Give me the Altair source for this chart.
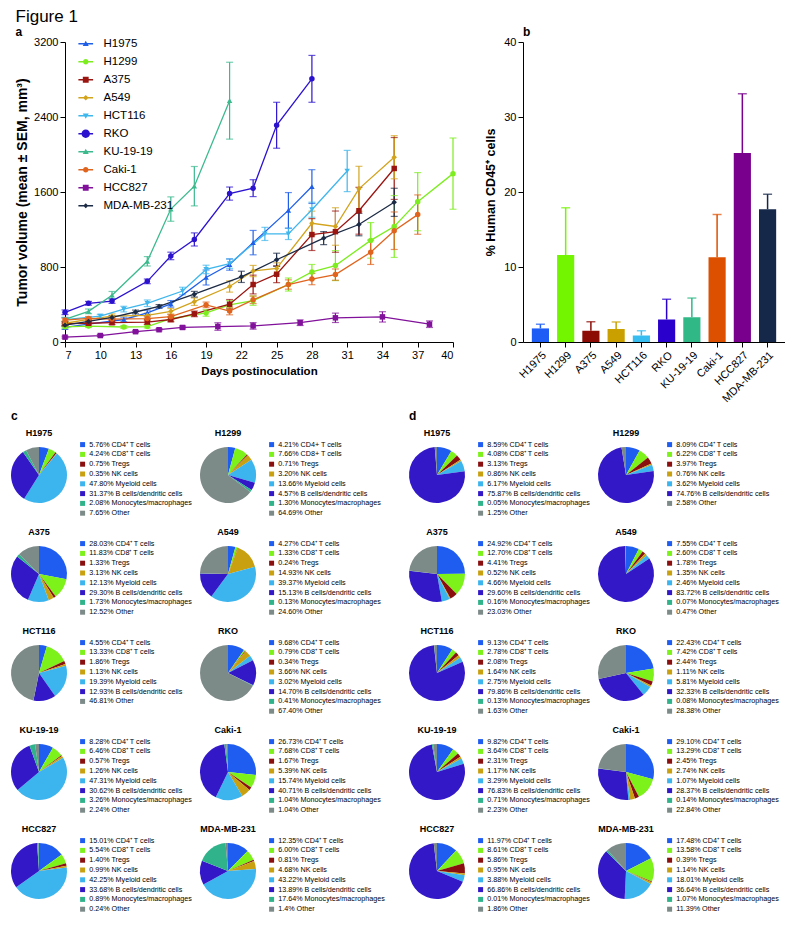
import altair as alt
import pandas as pd

FONT = "Liberation Sans"

# ---------------- panel a : tumour growth ----------------
SERIES = ["H1975", "H1299", "A375", "A549", "HCT116", "RKO", "KU-19-19", "Caki-1", "HCC827", "MDA-MB-231"]
LINE_COLORS = ["#1f5fe8", "#7ded1f", "#9a1410", "#d2a31c", "#3fb6ec", "#2b12cf", "#3cba8e", "#e0641e", "#81109a", "#1b2a45"]
MARKERS = ["triangle-up", "circle", "square", "diamond", "triangle-down", "circle", "triangle-up", "circle", "square", "diamond"]
MARKER_SIZES = [30, 30, 34, 22, 30, 70, 30, 30, 34, 18]
DAY_TICKS = [7, 10, 13, 16, 19, 22, 25, 28, 31, 34, 37, 40]
VOL_TICKS = [0, 800, 1600, 2400, 3200]

H1975_DAYS = [7, 9, 12, 14, 16, 19, 21, 23, 26, 28]
H1975_MEAN = [155, 190, 240, 310, 407, 688, 826, 1060, 1404, 1658]
H1975_SEM = [20, 20, 25, 30, 35, 80, 60, 130, 190, 180]

H1299_DAYS = [7, 9, 12, 14, 16, 19, 21, 23, 26, 28, 30, 33, 35, 37, 40]
H1299_MEAN = [162, 170, 160, 165, 248, 310, 396, 441, 613, 747, 815, 1084, 1232, 1497, 1796]
H1299_SEM = [15, 15, 15, 15, 25, 35, 45, 50, 70, 80, 160, 190, 330, 310, 380]

A375_DAYS = [7, 9, 11, 14, 16, 18, 21, 23, 25, 28, 30, 32, 35]
A375_MEAN = [195, 200, 206, 213, 240, 300, 403, 613, 723, 1146, 1177, 1400, 1851]
A375_SEM = [20, 20, 20, 25, 25, 30, 50, 100, 90, 170, 220, 250, 330]

A549_DAYS = [7, 9, 11, 14, 16, 18, 21, 23, 25, 28, 30, 32, 35]
A549_MEAN = [200, 241, 275, 283, 327, 430, 592, 757, 785, 1266, 1232, 1634, 1971]
A549_SEM = [20, 20, 25, 25, 30, 40, 60, 60, 60, 130, 200, 240, 230]

HCT116_DAYS = [7, 10, 12, 14, 17, 19, 21, 24, 26, 28, 31]
HCT116_MEAN = [238, 275, 351, 413, 544, 774, 836, 1153, 1153, 1411, 1824]
HCT116_SEM = [25, 20, 30, 35, 40, 45, 50, 70, 60, 80, 220]

RKO_DAYS = [7, 9, 11, 14, 16, 18, 21, 23, 25, 28]
RKO_MEAN = [317, 413, 437, 647, 918, 1094, 1583, 1641, 2312, 2807]
RKO_SEM = [25, 20, 25, 25, 40, 70, 70, 90, 245, 250]

KU1919_DAYS = [7, 9, 11, 14, 16, 18, 21]
KU1919_MEAN = [241, 327, 499, 861, 1418, 1662, 2574]
KU1919_SEM = [20, 25, 40, 50, 130, 210, 410]

CAKI1_DAYS = [7, 9, 11, 14, 16, 19, 21, 23, 26, 28, 30, 33, 35, 37]
CAKI1_MEAN = [234, 252, 245, 250, 270, 396, 330, 450, 613, 671, 719, 957, 1187, 1359]
CAKI1_SEM = [20, 20, 20, 25, 25, 30, 40, 40, 50, 60, 60, 130, 200, 210]

HCC827_DAYS = [7, 10, 13, 15, 17, 20, 23, 27, 30, 34, 38]
HCC827_MEAN = [52, 69, 110, 131, 155, 165, 172, 206, 258, 268, 190]
HCC827_SEM = [10, 10, 10, 12, 15, 40, 35, 30, 50, 55, 35]

MDA_DAYS = [7, 9, 11, 13, 15, 18, 22, 25, 29, 32, 35]
MDA_MEAN = [180, 220, 262, 320, 379, 510, 695, 877, 1108, 1253, 1490]
MDA_SEM = [15, 20, 20, 20, 20, 30, 60, 70, 70, 120, 150]

GROWTH = [
    (H1975_DAYS, H1975_MEAN, H1975_SEM),
    (H1299_DAYS, H1299_MEAN, H1299_SEM),
    (A375_DAYS, A375_MEAN, A375_SEM),
    (A549_DAYS, A549_MEAN, A549_SEM),
    (HCT116_DAYS, HCT116_MEAN, HCT116_SEM),
    (RKO_DAYS, RKO_MEAN, RKO_SEM),
    (KU1919_DAYS, KU1919_MEAN, KU1919_SEM),
    (CAKI1_DAYS, CAKI1_MEAN, CAKI1_SEM),
    (HCC827_DAYS, HCC827_MEAN, HCC827_SEM),
    (MDA_DAYS, MDA_MEAN, MDA_SEM),
]

# ---------------- panel b : CD45+ ----------------
CD45_MEAN = [1.81, 11.6, 1.5, 1.73, 0.86, 3.0, 3.3, 11.3, 25.2, 17.7]
CD45_SEM = [0.56, 6.3, 1.2, 0.94, 0.64, 2.7, 2.56, 5.7, 7.9, 2.0]
BAR_COLORS = ["#1d5cf5", "#74f500", "#8c0c05", "#c9a000", "#38bdf0", "#2a00cc", "#30b887", "#dc5000", "#78008c", "#16284a"]
PCT_TICKS = [0, 10, 20, 30, 40]

# ---------------- panels c / d : immune composition ----------------
PIE_CATS = ["CD4\u207a T cells", "CD8\u207a T cells", "Tregs", "NK cells", "Myeloid cells",
            "B cells/dendritic cells", "Monocytes/macrophages", "Other"]
PIE_COLORS = ["#1f5cf0", "#7cf21a", "#8a1010", "#c9a010", "#3cb4ee", "#3318c8", "#30b38a", "#7c8a88"]

C_H1975 = ["5.76", "4.24", "0.75", "0.35", "47.80", "31.37", "2.08", "7.65"]
C_H1299 = ["4.21", "7.66", "0.71", "3.20", "13.66", "4.57", "1.30", "64.69"]
C_A375 = ["28.03", "11.83", "1.33", "3.13", "12.13", "29.30", "1.73", "12.52"]
C_A549 = ["4.27", "1.33", "0.24", "14.93", "39.37", "15.13", "0.13", "24.60"]
C_HCT116 = ["4.55", "13.33", "1.86", "1.13", "19.39", "12.93", None, "46.81"]
C_RKO = ["9.68", "0.79", "0.34", "3.66", "3.02", "14.70", "0.41", "67.40"]
C_KU1919 = ["8.28", "6.46", "0.57", "1.26", "47.31", "30.62", "3.26", "2.24"]
C_CAKI1 = ["26.73", "7.68", "1.67", "5.39", "15.74", "40.71", "1.04", "1.04"]
C_HCC827 = ["15.01", "5.54", "1.40", "0.99", "42.25", "33.68", "0.89", "0.24"]
C_MDA = ["12.35", "6.00", "0.81", "4.68", "43.22", "13.89", "17.64", "1.4"]

D_H1975 = ["8.59", "4.08", "3.13", "0.86", "6.17", "75.87", "0.05", "1.25"]
D_H1299 = ["8.09", "6.22", "3.97", "0.76", "3.62", "74.76", None, "2.58"]
D_A375 = ["24.92", "12.70", "4.41", "0.52", "4.66", "29.60", "0.16", "23.03"]
D_A549 = ["7.55", "2.60", "1.78", "1.35", "2.46", "83.72", "0.07", "0.47"]
D_HCT116 = ["9.13", "2.78", "2.08", "1.64", "2.75", "79.86", "0.13", "1.63"]
D_RKO = ["22.43", "7.42", "2.44", "1.11", "5.81", "32.33", "0.08", "28.38"]
D_KU1919 = ["9.82", "3.64", "2.31", "1.17", "3.29", "76.83", "0.71", "2.23"]
D_CAKI1 = ["29.10", "13.29", "2.45", "2.74", "1.07", "28.37", "0.14", "22.84"]
D_HCC827 = ["11.97", "8.61", "5.86", "0.95", "3.88", "66.86", "0.01", "1.86"]
D_MDA = ["17.48", "13.58", "0.39", "1.14", "18.01", "36.64", "1.07", "11.39"]

C_SETS = [C_H1975, C_H1299, C_A375, C_A549, C_HCT116, C_RKO, C_KU1919, C_CAKI1, C_HCC827, C_MDA]
D_SETS = [D_H1975, D_H1299, D_A375, D_A549, D_HCT116, D_RKO, D_KU1919, D_CAKI1, D_HCC827, D_MDA]
PLAIN_PLUS = {("c", "H1299")}

AX = dict(domainColor="black", tickColor="black", labelColor="black", titleColor="black",
          grid=False, tickSize=5, domainWidth=1, tickWidth=1, labelFont=FONT, titleFont=FONT)

# ---------- build panel a ----------
rows = []
for s, (days, means, sems) in zip(SERIES, GROWTH):
    for d, m, e in zip(days, means, sems):
        rows.append({"series": s, "day": d, "mean": m, "lo": m - e, "hi": m + e})
df_a = pd.DataFrame(rows)


def legend_path(kind, size):
    k = (size ** 0.5) / 2 / 3.0
    line = "M-2.45,-0.22H2.45V0.22H-2.45Z"
    if kind == "triangle-up":
        m = f"M0,{-1.1*k:.3f}L{1.1*k:.3f},{0.85*k:.3f}H{-1.1*k:.3f}Z"
    elif kind == "triangle-down":
        m = f"M0,{1.1*k:.3f}L{-1.1*k:.3f},{-0.85*k:.3f}H{1.1*k:.3f}Z"
    elif kind == "square":
        m = f"M{-k:.3f},{-k:.3f}H{k:.3f}V{k:.3f}H{-k:.3f}Z"
    elif kind == "diamond":
        m = f"M0,{-1.2*k:.3f}L{1.2*k:.3f},0L0,{1.2*k:.3f}L{-1.2*k:.3f},0Z"
    else:
        m = f"M{k:.3f},0A{k:.3f},{k:.3f},0,1,1,{-k:.3f},0A{k:.3f},{k:.3f},0,1,1,{k:.3f},0Z"
    return line + m


LEGEND_PATHS = [legend_path(k, s) for k, s in zip(MARKERS, MARKER_SIZES)]

XSC = alt.Scale(domain=[7, 40], nice=False, zero=False)
YSC = alt.Scale(domain=[0, 3200], nice=False)
X_AXIS = alt.Axis(values=DAY_TICKS, title="Days postinoculation", titleFontSize=11.5, titleFontWeight="bold",
                  labelFontSize=11, titlePadding=5, format="d", **AX)
Y_AXIS = alt.Axis(values=VOL_TICKS, title="Tumor volume (mean \u00b1 SEM, mm\u00b3)", titleFontSize=14,
                  titleFontWeight="bold", labelFontSize=11, titlePadding=4, format="d", **AX)
COL = alt.Scale(domain=SERIES, range=LINE_COLORS)

base = alt.Chart(df_a)
xa = alt.X("day:Q", scale=XSC, axis=X_AXIS)

err_a = base.mark_rule(strokeWidth=1.2).encode(
    x=xa, y=alt.Y("lo:Q", scale=YSC, axis=Y_AXIS), y2=alt.Y2("hi:Q"),
    color=alt.Color("series:N", scale=COL, legend=None))
caps_a = base.transform_fold(["lo", "hi"], as_=["which", "val"]).mark_tick(
    orient="horizontal", size=7, thickness=1.2).encode(
    x=xa, y=alt.Y("val:Q", scale=YSC, axis=Y_AXIS),
    color=alt.Color("series:N", scale=COL, legend=None))
lines_a = base.mark_line(strokeWidth=1.3).encode(
    x=xa, y=alt.Y("mean:Q", scale=YSC, axis=Y_AXIS),
    color=alt.Color("series:N", scale=COL, legend=None), order="day:Q")
pts_a = base.mark_point(filled=True, opacity=1).encode(
    x=xa, y=alt.Y("mean:Q", scale=YSC, axis=Y_AXIS),
    color=alt.Color("series:N", scale=COL, legend=None),
    shape=alt.Shape("series:N", scale=alt.Scale(domain=SERIES, range=MARKERS), legend=None),
    size=alt.Size("series:N", scale=alt.Scale(domain=SERIES, range=MARKER_SIZES), legend=None))

LEG_A = alt.Legend(orient="none", legendX=15, legendY=-4, title=None, symbolSize=36, symbolOpacity=1,
                   symbolStrokeWidth=0, labelFontSize=11.5, labelOffset=12, rowPadding=5, padding=0,
                   labelFont=FONT, labelColor="black")
leg_a = base.mark_point(filled=True, opacity=0).encode(
    x=xa, y=alt.Y("mean:Q", scale=YSC, axis=Y_AXIS),
    color=alt.Color("series:N", scale=COL, legend=LEG_A),
    shape=alt.Shape("series:N", scale=alt.Scale(domain=SERIES, range=LEGEND_PATHS), legend=LEG_A))

panel_a = alt.layer(err_a, caps_a, lines_a, pts_a, leg_a).resolve_scale(
    color="independent", shape="independent", size="independent").properties(
    width=388, height=300,
    title=alt.TitleParams("Figure 1", subtitle="a", anchor="start", frame="bounds", fontSize=17,
                          fontWeight="normal", color="black", font=FONT, subtitleFont=FONT,
                          subtitleFontSize=12, subtitleFontWeight="bold", subtitleColor="black",
                          subtitlePadding=1, offset=2, dy=5))

# zero-size spacer so that panel a's axis extent sits inside the row
spacer = alt.Chart(pd.DataFrame({"v": [0]})).mark_point(opacity=0).encode(
    x=alt.X("v:Q", axis=None), y=alt.Y("v:Q", axis=None)).properties(width=1, height=1)

# ---------- build panel b ----------
df_b = pd.DataFrame({"line": SERIES, "pct": CD45_MEAN, "err": CD45_SEM})
df_b["hi"] = df_b["pct"] + df_b["err"]
XB = alt.X("line:N", sort=SERIES,
           scale=alt.Scale(domain=SERIES, paddingInner=0.32, paddingOuter=0.35),
           axis=alt.Axis(title=None, labelAngle=-45, labelFontSize=11, labelPadding=2, **AX))
YB_SC = alt.Scale(domain=[0, 40], nice=False)
YB_AX = alt.Axis(values=PCT_TICKS, title="% Human CD45\u207a cells", titleFontSize=12.5, titleFontWeight="bold",
                 labelFontSize=11, titlePadding=6, **AX)
COLB = alt.Scale(domain=SERIES, range=BAR_COLORS)
bb = alt.Chart(df_b)
bars = bb.mark_bar().encode(x=XB, y=alt.Y("pct:Q", scale=YB_SC, axis=YB_AX),
                            color=alt.Color("line:N", scale=COLB, legend=None))
err_b = bb.mark_rule(strokeWidth=1.5).encode(x=XB, y=alt.Y("pct:Q", scale=YB_SC, axis=YB_AX), y2="hi:Q",
                                             color=alt.Color("line:N", scale=COLB, legend=None))
cap_b = bb.mark_tick(orient="horizontal", size=9, thickness=1.5).encode(
    x=XB, y=alt.Y("hi:Q", scale=YB_SC, axis=YB_AX), color=alt.Color("line:N", scale=COLB, legend=None))
panel_b = alt.layer(bars, err_b, cap_b).properties(
    width=262, height=300,
    title=alt.TitleParams("b", anchor="start", fontSize=12, fontWeight="bold", offset=2, dy=5, frame="group"))


# ---------- pies ----------
def pie_cell(name, vals, plain):
    recs = []
    for i, (cat, v) in enumerate(zip(PIE_CATS, vals)):
        if v is None:
            continue
        nm = cat.replace("\u207a", "+") if plain else cat
        recs.append({"lab": f"{v}% {nm}", "v": float(v), "i": i, "col": PIE_COLORS[i]})
    df = pd.DataFrame(recs)
    leg = alt.Legend(orient="none", legendX=68, legendY=-6, title=None, symbolType="square", symbolSize=25,
                     symbolStrokeWidth=0, labelFontSize=7.2, labelOffset=3, rowPadding=1.8, padding=0,
                     labelLimit=220, labelFont=FONT, labelColor="black")
    return alt.Chart(df).mark_arc().encode(
        theta=alt.Theta("v:Q", stack=True),
        color=alt.Color("lab:N", scale=alt.Scale(domain=list(df["lab"]), range=list(df["col"])), legend=leg),
        order=alt.Order("i:Q"),
    ).properties(width=56, height=56,
                 title=alt.TitleParams(name, fontSize=9, fontWeight="bold", anchor="middle", frame="group",
                                       offset=3))


def grid(tag, sets):
    cells = [pie_cell(n, v, (tag, n) in PLAIN_PLUS) for n, v in zip(SERIES, sets)]
    return alt.concat(*cells, columns=2, spacing={"row": 11, "column": 8}).resolve_scale(
        color="independent").properties(
        title=alt.TitleParams(tag, anchor="start", fontSize=12, fontWeight="bold", offset=6, frame="bounds"))


left_a = alt.hconcat(spacer, panel_a, spacing=0).resolve_scale(
    color="independent", shape="independent", size="independent")
row1 = alt.hconcat(left_a, panel_b, spacing=24).resolve_scale(
    color="independent", shape="independent", size="independent")
row2 = alt.hconcat(grid("c", C_SETS), grid("d", D_SETS), spacing=24).resolve_scale(color="independent")

chart = alt.vconcat(row1, row2, spacing=6).resolve_scale(
    color="independent", shape="independent", size="independent").properties(
    padding=0,
).configure(font=FONT).configure_view(stroke=None).configure_title(font=FONT, color="black")

chart.save("out.html", embed_options={"renderer": "svg", "actions": False})
